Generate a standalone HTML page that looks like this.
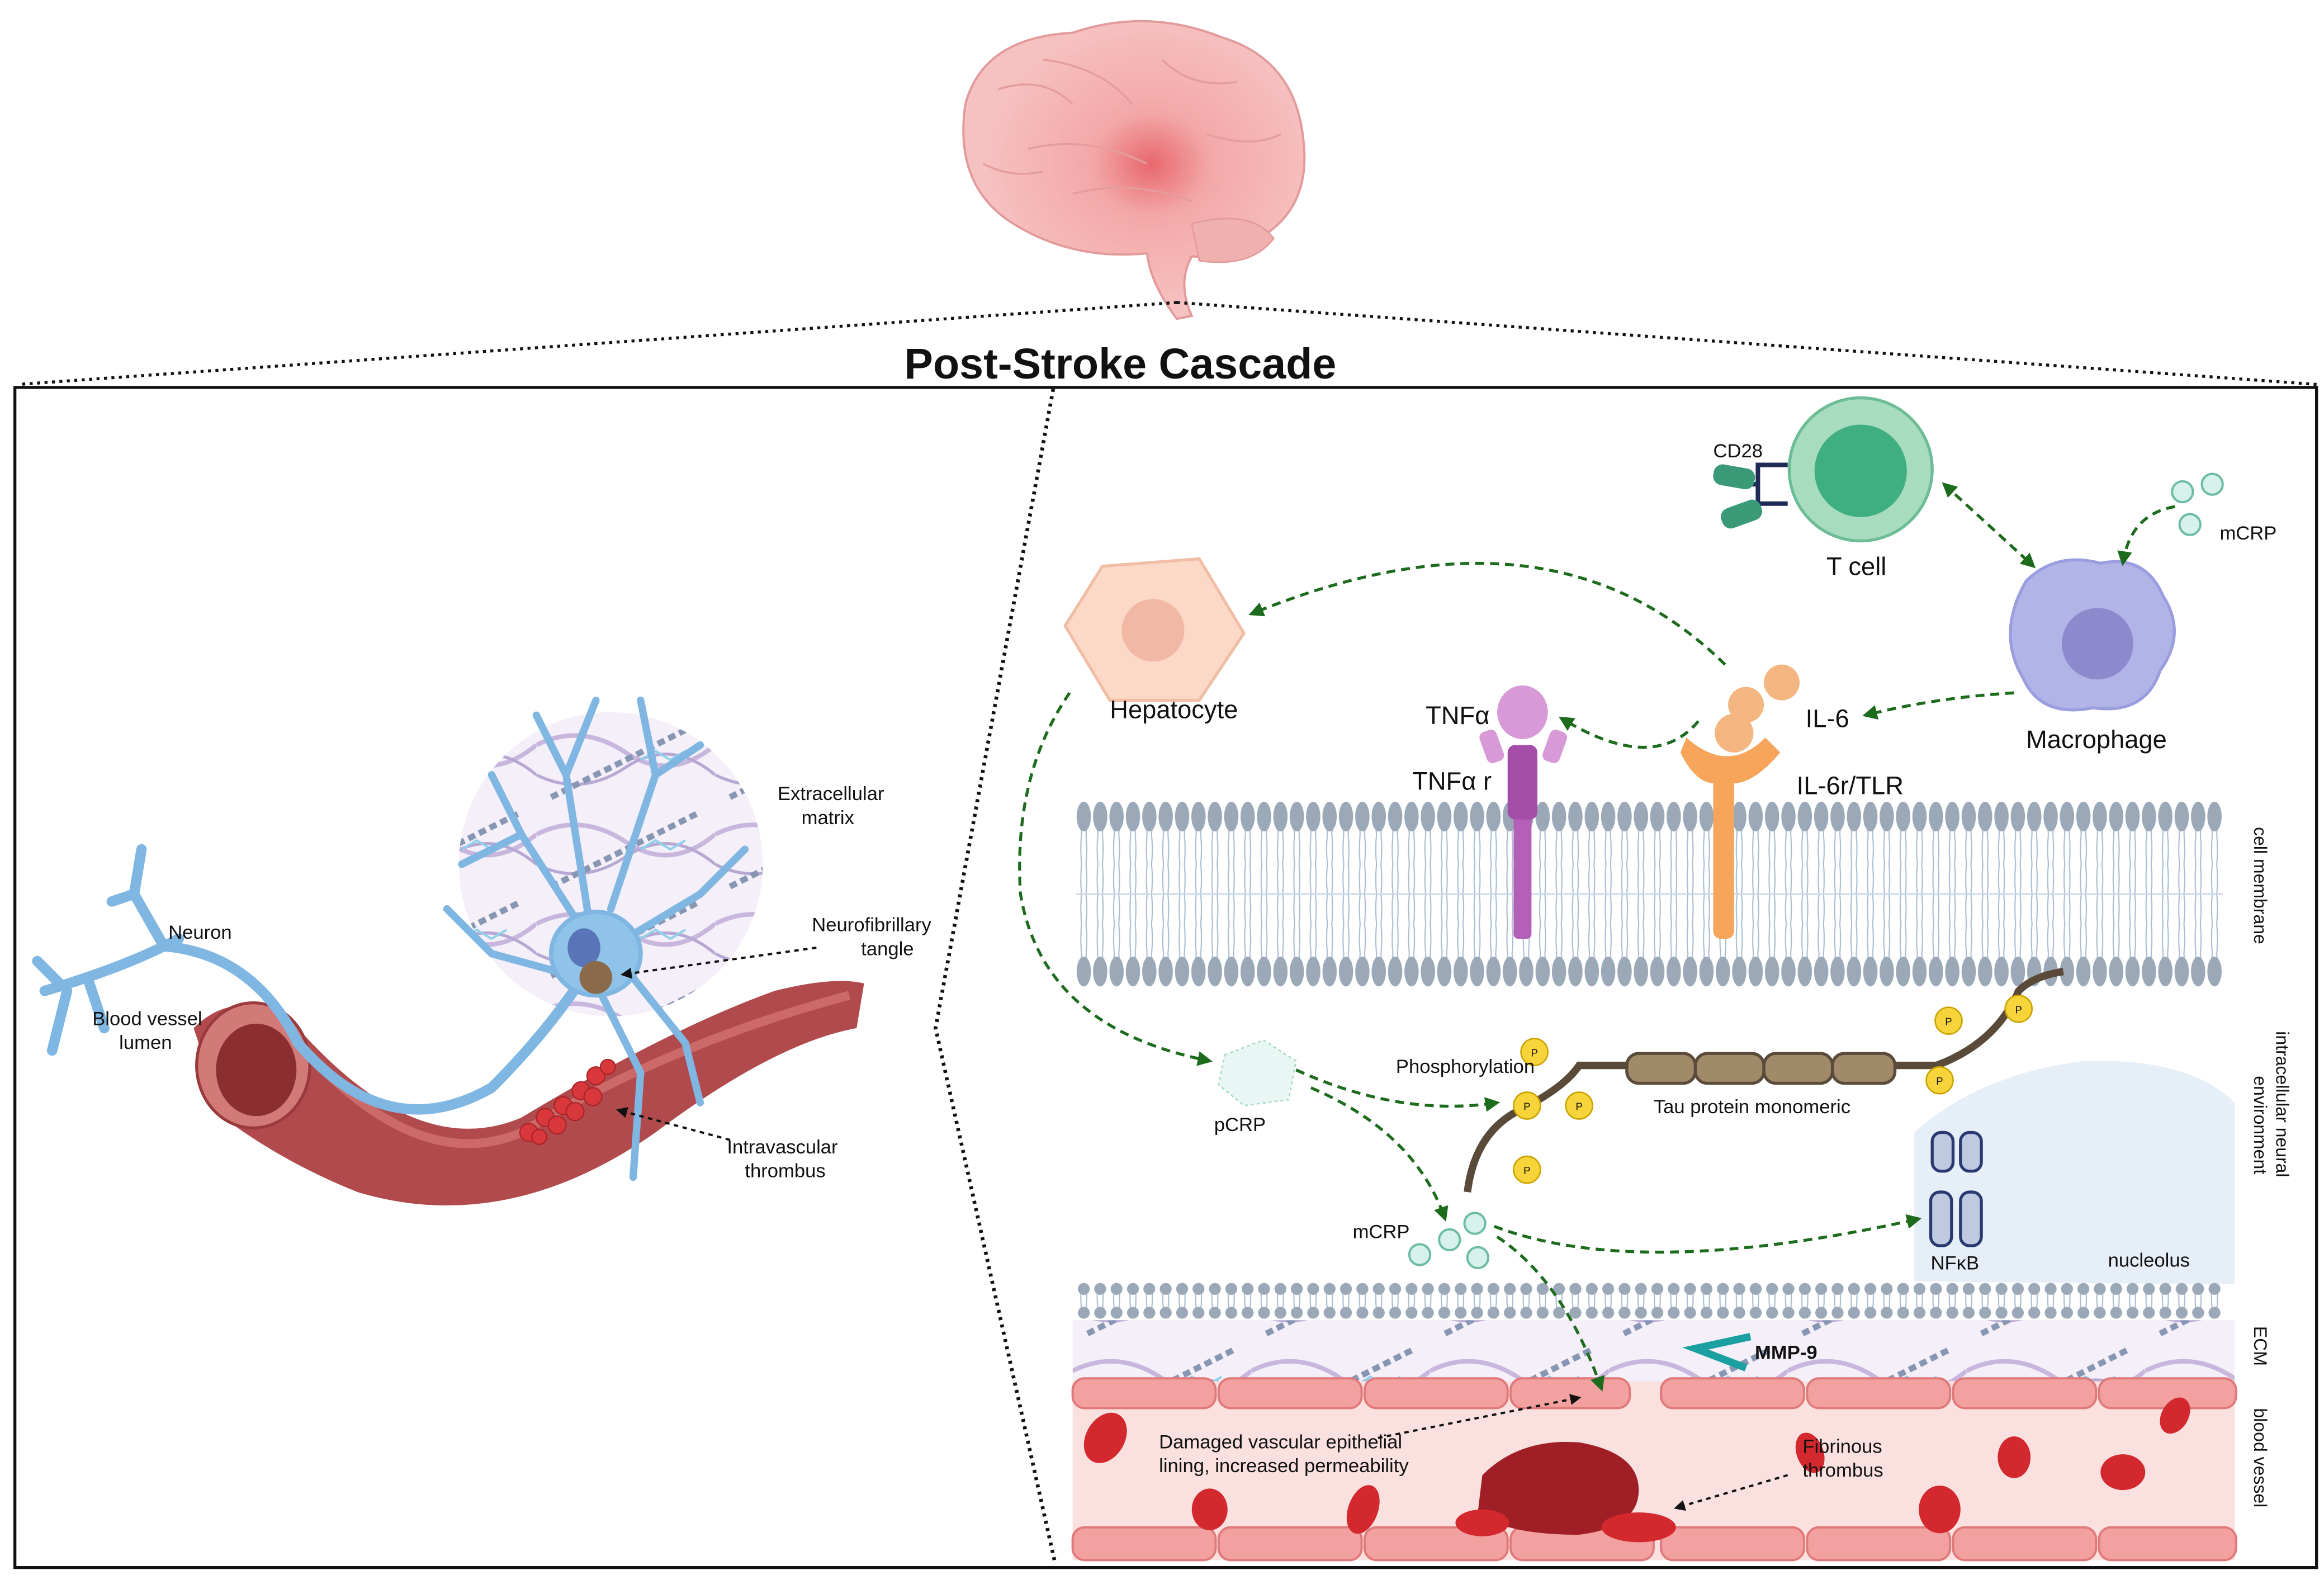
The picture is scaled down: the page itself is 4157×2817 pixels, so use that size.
<!DOCTYPE html>
<html><head><meta charset="utf-8"><style>
html,body{margin:0;padding:0;background:#fff}
svg{display:block}
text{font-family:"Liberation Sans",sans-serif;fill:#111}
</style></head><body>
<svg width="4157" height="2817" viewBox="0 0 1560 1057" preserveAspectRatio="none" xmlns="http://www.w3.org/2000/svg">
<defs>
<pattern id="headsA" x="722" y="533" width="11" height="30" patternUnits="userSpaceOnUse">
<ellipse cx="5.5" cy="15" rx="4.8" ry="10" fill="#9aa8b8"/>
</pattern>
<pattern id="headsB" x="722" y="637" width="11" height="30" patternUnits="userSpaceOnUse">
<ellipse cx="5.5" cy="15" rx="4.8" ry="10" fill="#9aa8b8"/>
</pattern>
<pattern id="headsC" x="722" y="860" width="11" height="10" patternUnits="userSpaceOnUse">
<ellipse cx="5.5" cy="5" rx="4" ry="4" fill="#9aa8b8"/>
</pattern>
<pattern id="headsD" x="722" y="876" width="11" height="10" patternUnits="userSpaceOnUse">
<ellipse cx="5.5" cy="5" rx="4" ry="4" fill="#9aa8b8"/>
</pattern>
<pattern id="tails" x="722" y="0" width="11" height="20" patternUnits="userSpaceOnUse">
<path d="M4 0 Q3 10 4 20 M7 0 Q8 10 7 20" stroke="#a9bdd3" stroke-width="0.8" fill="none"/>
</pattern>
<pattern id="ecm" x="0" y="0" width="120" height="60" patternUnits="userSpaceOnUse">
<rect width="120" height="60" fill="#f4eff8"/>
<path d="M0 20 Q30 5 60 25 T120 20" stroke="#c8b6dd" stroke-width="3" fill="none"/>
<path d="M0 40 Q30 55 60 35 T120 40" stroke="#b7a7d3" stroke-width="2" fill="none"/>
<path d="M10 55 L110 5" stroke="#8696b3" stroke-width="4" stroke-dasharray="5 3" fill="none"/>
<path d="M70 30 l10 -6 l10 6 l10 -6" stroke="#8fd0ec" stroke-width="1.5" fill="none"/>
</pattern>
<radialGradient id="brainG" cx="0.55" cy="0.48" r="0.5">
<stop offset="0" stop-color="#e8686e"/><stop offset="0.35" stop-color="#f3a8a8"/><stop offset="1" stop-color="#f6c2c0"/>
</radialGradient>
<marker id="ag" viewBox="0 0 10 10" refX="8" refY="5" markerWidth="5" markerHeight="5" orient="auto-start-reverse"><path d="M0 0L10 5L0 10z" fill="#1d6b1d"/></marker>
<marker id="ak" viewBox="0 0 10 10" refX="8" refY="5" markerWidth="5" markerHeight="5" orient="auto-start-reverse"><path d="M0 0L10 5L0 10z" fill="#111"/></marker>
</defs>

<!-- brain -->
<path d="M648 70 Q660 25 720 22 Q770 5 820 25 Q870 40 875 95 Q880 140 845 160 Q830 175 800 172 Q790 190 800 212 L790 214 Q772 190 770 170 Q720 175 680 150 Q640 125 648 70Z" fill="url(#brainG)" stroke="#e39a9a" stroke-width="1.5"/>
<path d="M800 150 Q840 140 855 160 Q840 180 805 175Z" fill="#f0b0ae" stroke="#e39a9a"/>
<g stroke="#e59c9c" fill="none" stroke-width="1.3">
<path d="M670 60 Q700 50 720 70 M700 40 Q740 45 760 70 M780 40 Q800 60 830 55 M690 100 Q730 90 770 110 M720 130 Q760 120 800 135 M810 90 Q840 100 860 90 M660 110 Q680 120 700 115"/>
</g>

<!-- dotted lines -->
<path d="M790 203 L12 258 M790 203 L1555 258" stroke="#111" stroke-width="2" stroke-dasharray="2 3" fill="none"/>
<text x="752" y="254" font-size="29" font-weight="bold" text-anchor="middle">Post-Stroke Cascade</text>
<rect x="10" y="260" width="1545" height="792" fill="none" stroke="#111" stroke-width="2"/>
<path d="M707 261 L628 690 L708 1048" stroke="#111" stroke-width="2.5" stroke-dasharray="2 3" fill="none"/>

<!-- LEFT PANEL -->
<circle cx="410" cy="580" r="102" fill="#f3eef8"/>
<circle cx="410" cy="580" r="102" fill="url(#ecm)"/>
<path d="M130 690 Q160 660 200 690 Q280 780 350 750 Q450 690 520 665 Q560 655 580 660 L575 690 Q520 700 440 760 Q340 830 240 800 Q190 780 150 750Z" fill="#b04a4c"/>
<path d="M200 700 Q280 790 350 760 Q450 700 570 668" stroke="#cc6a6a" stroke-width="6" fill="none"/>
<ellipse cx="170" cy="715" rx="38" ry="42" fill="#d27a78" stroke="#9a3a3c" stroke-width="2"/>
<ellipse cx="172" cy="718" rx="27" ry="31" fill="#8a2e30"/>
<g fill="#d8383c" stroke="#a82228" stroke-width="0.8">
<circle cx="355" cy="760" r="6"/><circle cx="366" cy="750" r="6"/><circle cx="378" cy="742" r="6"/><circle cx="390" cy="732" r="6"/><circle cx="400" cy="722" r="6"/><circle cx="362" cy="763" r="5"/><circle cx="374" cy="755" r="6"/><circle cx="386" cy="746" r="6"/><circle cx="398" cy="736" r="6"/><circle cx="408" cy="716" r="5"/>
</g>
<g stroke="#7fb7e2" stroke-width="7" fill="none" stroke-linecap="round">
<path d="M30 665 Q80 650 110 635 Q170 640 200 700 Q260 770 330 730 Q370 690 395 650"/>
<path d="M110 635 L90 600 L75 605 M90 600 L95 570 M110 635 L120 630"/>
<path d="M40 660 L25 645 M45 665 L35 705 M60 660 L70 690"/>
</g>
<g stroke="#7fb7e2" stroke-width="5" fill="none" stroke-linecap="round">
<path d="M395 630 L350 560 L330 520 M350 560 L310 580 M395 615 L380 520 L360 480 M380 520 L400 470 M410 610 L440 520 L470 500 M440 520 L430 470 M420 630 L470 600 L500 570 M420 650 L460 700 L470 740 M400 660 L430 720 L425 790 M385 655 L330 640 L300 610"/>
</g>
<ellipse cx="400" cy="640" rx="30" ry="28" fill="#8fc3ea" stroke="#7fb7e2" stroke-width="3"/>
<ellipse cx="392" cy="636" rx="11" ry="13" fill="#5a74b8"/>
<circle cx="400" cy="656" r="11" fill="#8a6a4a"/>
<g font-size="13">
<text x="522" y="537">Extracellular</text><text x="538" y="553">matrix</text>
<text x="113" y="630">Neuron</text>
<text x="545" y="625">Neurofibrillary</text><text x="578" y="641">tangle</text>
<text x="62" y="688">Blood vessel</text><text x="80" y="704">lumen</text>
<text x="488" y="774">Intravascular</text><text x="500" y="790">thrombus</text>
</g>
<path d="M548 636 L418 654" stroke="#111" stroke-width="1.5" stroke-dasharray="3 3" marker-end="url(#ak)"/>
<path d="M490 765 L415 745" stroke="#111" stroke-width="1.5" stroke-dasharray="3 3" marker-end="url(#ak)"/>

<!-- RIGHT PANEL membrane -->
<rect x="722" y="548" width="770" height="105" fill="url(#tails)"/>
<rect x="722" y="533" width="770" height="30" fill="url(#headsA)"/>
<rect x="722" y="637" width="770" height="30" fill="url(#headsB)"/>
<line x1="722" y1="600" x2="1492" y2="600" stroke="#c9d6e4" stroke-width="1"/>

<!-- nucleolus -->
<path d="M1285 860 L1285 760 Q1330 720 1400 712 Q1470 710 1500 740 L1500 862Z" fill="#e6eff8"/>
<rect x="722" y="862" width="770" height="20" fill="url(#tails)"/>
<rect x="722" y="860" width="770" height="10" fill="url(#headsC)"/>
<rect x="722" y="876" width="770" height="10" fill="url(#headsD)"/>
<!-- ECM band -->
<rect x="720" y="886" width="780" height="41" fill="url(#ecm)"/>
<!-- blood vessel -->
<rect x="720" y="927" width="780" height="120" fill="#fbe0e0"/>
<g fill="#f3a1a0" stroke="#e07a7a" stroke-width="1.5">
<rect x="720" y="925" width="96" height="20" rx="8"/><rect x="818" y="925" width="96" height="20" rx="8"/><rect x="916" y="925" width="96" height="20" rx="8"/><rect x="1014" y="925" width="80" height="20" rx="8"/><rect x="1115" y="925" width="96" height="20" rx="8"/><rect x="1213" y="925" width="96" height="20" rx="8"/><rect x="1311" y="925" width="96" height="20" rx="8"/><rect x="1409" y="925" width="92" height="20" rx="8"/>
<rect x="720" y="1025" width="96" height="22" rx="8"/><rect x="818" y="1025" width="96" height="22" rx="8"/><rect x="916" y="1025" width="96" height="22" rx="8"/><rect x="1014" y="1025" width="96" height="22" rx="8"/><rect x="1115" y="1025" width="96" height="22" rx="8"/><rect x="1213" y="1025" width="96" height="22" rx="8"/><rect x="1311" y="1025" width="96" height="22" rx="8"/><rect x="1409" y="1025" width="92" height="22" rx="8"/>
</g>
<g fill="#d2282e">
<ellipse cx="742" cy="965" rx="13" ry="18" transform="rotate(30 742 965)"/>
<ellipse cx="812" cy="1013" rx="12" ry="14"/>
<ellipse cx="915" cy="1013" rx="10" ry="17" transform="rotate(20 915 1013)"/>
<ellipse cx="1352" cy="978" rx="11" ry="14"/>
<ellipse cx="1425" cy="988" rx="15" ry="12"/>
<ellipse cx="1302" cy="1013" rx="14" ry="16"/>
<ellipse cx="1215" cy="975" rx="9" ry="14" transform="rotate(-20 1215 975)"/>
<ellipse cx="1460" cy="950" rx="9" ry="13" transform="rotate(30 1460 950)"/>
</g>
<path d="M995 990 Q1020 965 1060 968 Q1100 975 1100 1000 Q1100 1025 1060 1030 Q1010 1030 992 1015Z" fill="#a01f26"/>
<ellipse cx="1100" cy="1025" rx="25" ry="10" fill="#d2282e"/>
<ellipse cx="995" cy="1022" rx="18" ry="9" fill="#d2282e"/>

<!-- hepatocyte -->
<path d="M740 380 L805 375 L835 425 L805 470 L745 470 L715 420Z" fill="#fbd9c6" stroke="#f1bda5" stroke-width="2"/>
<circle cx="774" cy="423" r="21" fill="#f1b9a5"/>
<!-- T cell -->
<circle cx="1249" cy="315" r="48" fill="#a8dcc0" stroke="#6cbc95" stroke-width="2"/>
<circle cx="1249" cy="316" r="31" fill="#3fae80"/>
<path d="M1200 312 L1180 312 L1180 338 L1200 338 M1180 325 L1170 325" stroke="#1f2a55" stroke-width="3" fill="none"/>
<rect x="1150" y="313" width="28" height="14" rx="6" fill="#3a9a78" transform="rotate(10 1164 320)"/>
<rect x="1155" y="338" width="28" height="14" rx="6" fill="#3a9a78" transform="rotate(-20 1169 345)"/>
<!-- macrophage -->
<path d="M1360 390 Q1380 370 1410 378 Q1440 372 1452 400 Q1468 425 1450 450 Q1440 480 1405 475 Q1370 482 1358 455 Q1340 425 1360 390Z" fill="#b2b4e8" stroke="#9a9dde" stroke-width="2"/>
<circle cx="1408" cy="432" r="24" fill="#8d89cc"/>
<!-- mCRP -->
<g fill="#d6f2ea" stroke="#6cbca5" stroke-width="1.5">
<circle cx="1465" cy="330" r="7"/><circle cx="1485" cy="325" r="7"/><circle cx="1470" cy="352" r="7"/>
<circle cx="953" cy="842" r="7"/><circle cx="973" cy="832" r="7"/><circle cx="990" cy="821" r="7"/><circle cx="992" cy="844" r="7"/>
</g>
<!-- pCRP -->
<path d="M822 708 L848 698 L870 712 L865 738 L835 742 L818 728Z" fill="#e8f7f3" stroke="#a6dacb" stroke-dasharray="2 2"/>
<!-- TNF receptor -->
<g fill="#b45fb8">
<rect x="1016" y="540" width="12" height="90" rx="3"/>
<rect x="1012" y="500" width="20" height="50" rx="5" fill="#a44ea8"/>
</g>
<g fill="#d79ad7"><ellipse cx="1022" cy="478" rx="17" ry="18"/><rect x="995" y="490" width="12" height="22" rx="4" transform="rotate(-20 1001 500)"/><rect x="1038" y="490" width="12" height="22" rx="4" transform="rotate(20 1044 500)"/></g>
<!-- IL6 receptor -->
<rect x="1150" y="520" width="14" height="110" rx="5" fill="#f6a55a"/>
<path d="M1128 505 Q1140 530 1157 525 Q1174 530 1195 505 L1185 495 Q1160 520 1132 495Z" fill="#f6a55a"/>
<g fill="#f3b680"><circle cx="1164" cy="492" r="13"/><circle cx="1172" cy="473" r="12"/><circle cx="1196" cy="458" r="12"/></g>
<!-- Tau -->
<path d="M985 800 Q990 760 1020 745 Q1050 730 1060 715 L1300 715 Q1340 700 1355 665 Q1365 655 1385 652" stroke="#5a4a3a" stroke-width="5" fill="none"/>
<g fill="#a08a6a" stroke="#5a4a3a" stroke-width="2">
<rect x="1092" y="707" width="46" height="20" rx="8"/><rect x="1138" y="707" width="46" height="20" rx="8"/><rect x="1184" y="707" width="46" height="20" rx="8"/><rect x="1230" y="707" width="42" height="20" rx="8"/>
</g>
<g fill="#f7d53a" stroke="#c9a300" stroke-width="1"><circle cx="1030" cy="706" r="9"/><circle cx="1025" cy="742" r="9"/><circle cx="1060" cy="742" r="9"/><circle cx="1025" cy="785" r="9"/><circle cx="1308" cy="685" r="9"/><circle cx="1355" cy="677" r="9"/><circle cx="1302" cy="725" r="9"/></g>
<g font-size="7" text-anchor="middle"><text x="1030" y="709">P</text><text x="1025" y="745">P</text><text x="1060" y="745">P</text><text x="1025" y="788">P</text><text x="1308" y="688">P</text><text x="1355" y="680">P</text><text x="1302" y="728">P</text></g>
<!-- NFkB -->
<g fill="#bfc9e0" stroke="#2a3a70" stroke-width="2"><rect x="1297" y="760" width="14" height="26" rx="6"/><rect x="1316" y="760" width="14" height="26" rx="6"/><rect x="1296" y="800" width="14" height="36" rx="6"/><rect x="1316" y="800" width="14" height="36" rx="6"/></g>
<!-- MMP-9 -->
<path d="M1175 897 L1138 905 L1172 918" stroke="#1aa0a0" stroke-width="5" fill="none"/>

<!-- green arrows -->
<g stroke="#1d6b1d" stroke-width="2" stroke-dasharray="6 4" fill="none" marker-end="url(#ag)">
<path d="M1158 446 Q1040 330 840 412"/>
<path d="M718 465 Q680 520 685 600 Q700 690 812 712"/>
<path d="M1140 484 Q1110 520 1048 482"/>
<path d="M1352 465 Q1300 468 1252 480"/>
<path d="M1305 325 L1365 380" marker-start="url(#ag)"/>
<path d="M1460 340 Q1430 345 1425 378"/>
<path d="M870 718 Q940 750 1005 740"/>
<path d="M880 730 Q950 760 970 818"/>
<path d="M1003 823 Q1100 860 1288 818"/>
<path d="M1005 830 Q1050 860 1075 932"/>
</g>
<path d="M925 965 L1060 938" stroke="#111" stroke-width="1.5" stroke-dasharray="3 3" marker-end="url(#ak)"/>
<path d="M1200 990 L1125 1012" stroke="#111" stroke-width="1.5" stroke-dasharray="3 3" marker-end="url(#ak)"/>

<!-- labels -->
<g font-size="17">
<text x="745" y="482">Hepatocyte</text>
<text x="1226" y="386">T cell</text>
<text x="1360" y="502">Macrophage</text>
<text x="957" y="486">TNFα</text>
<text x="948" y="530">TNFα r</text>
<text x="1212" y="488">IL-6</text>
<text x="1206" y="533">IL-6r/TLR</text>
</g>
<g font-size="13">
<text x="1150" y="307">CD28</text>
<text x="1490" y="362">mCRP</text>
<text x="937" y="720">Phosphorylation</text>
<text x="1110" y="747">Tau protein monomeric</text>
<text x="815" y="759">pCRP</text>
<text x="908" y="831">mCRP</text>
<text x="1296" y="852">NFκB</text>
<text x="1415" y="850">nucleolus</text>
<text x="1178" y="912" font-weight="bold">MMP-9</text>
<text x="778" y="972">Damaged vascular epithelial</text>
<text x="778" y="988">lining, increased permeability</text>
<text x="1210" y="975">Fibrinous</text>
<text x="1210" y="991">thrombus</text>
</g>
<g font-size="12">
<text transform="translate(1513 555) rotate(90)">cell membrane</text>
<text transform="translate(1528 692) rotate(90)">intracellular neural</text>
<text transform="translate(1513 722) rotate(90)">environment</text>
<text transform="translate(1513 890) rotate(90)">ECM</text>
<text transform="translate(1513 945) rotate(90)">blood vessel</text>
</g>
</svg>
</body></html>
